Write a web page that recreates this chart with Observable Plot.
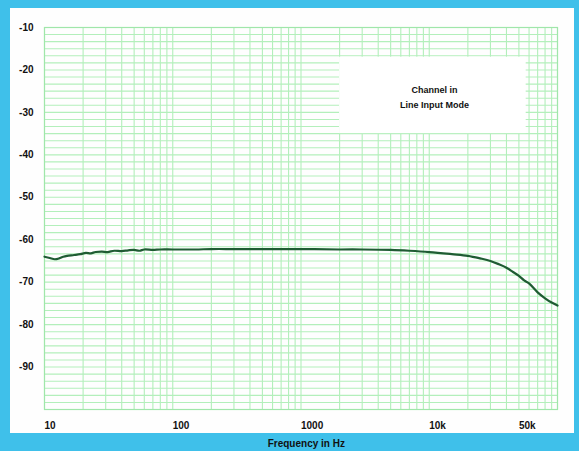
<!DOCTYPE html>
<html>
<head>
<meta charset="utf-8">
<script src="https://cdn.jsdelivr.net/npm/d3@7"></script>
<script src="https://cdn.jsdelivr.net/npm/@observablehq/plot@0.6"></script>
<style>
  html, body { margin: 0; padding: 0; }
  body { width: 579px; height: 451px; background: #3fc0ea; position: relative; overflow: hidden; font-family: "Liberation Sans", Arial, sans-serif; }
  #panel { position: absolute; left: 10px; top: 8px; width: 564px; height: 425px; background: #fefefe; }
  #chart { position: absolute; left: 0; top: 0; }
</style>
</head>
<body>
<div id="panel"></div>
<div id="chart"></div>
<script>
// Frequency response data (Hz, dB)
const freqHz = [10, 11, 12, 13, 14, 15, 17, 19, 21, 23, 25, 28, 31, 35, 40, 45, 50, 55, 60, 70, 80, 100, 150, 200, 300, 500, 1000, 2000, 3000, 5000, 7000, 10000, 15000, 20000, 25000, 30000, 35000, 40000, 45000, 50000, 55000, 60000, 70000, 80000, 90000, 100000];
const levelDb = [-64.0, -64.3, -64.6, -64.4, -64.0, -63.8, -63.6, -63.4, -63.1, -63.2, -62.9, -62.8, -62.9, -62.6, -62.7, -62.5, -62.4, -62.6, -62.3, -62.4, -62.3, -62.3, -62.3, -62.2, -62.2, -62.2, -62.2, -62.3, -62.3, -62.4, -62.6, -62.9, -63.4, -63.8, -64.4, -65.0, -65.8, -66.6, -67.6, -68.5, -69.6, -70.3, -72.4, -73.8, -74.8, -75.5];

const xTickValues = [10, 100, 1000, 10000, 50000];
const xTickLabels = ["10", "100", "1000", "10k", "50k"];
const yTickValues = [-10, -20, -30, -40, -50, -60, -70, -80, -90];
const xDomain = [10, 100000];
const yDomain = [-100, -10];

const noteLines = ["Channel in", "Line Input Mode"];
const noteBox = {x1: 2000, x2: 57000, y1: -17, y2: -35};
const noteAt = {x: 11000, y: -26};
const axisTitle = {text: "Frequency in Hz", x: 1100};

const data = freqHz.map((f, i) => ({f, db: levelDb[i]}));
const xTicks = xTickValues.map((v, i) => ({v, label: xTickLabels[i]}));

// grid positions (log paper: 1..9 per decade; 6 horizontal divisions per 10 dB)
const vGrid = [];
for (let e = 1; e <= 4; e++) for (let m = 1; m <= 9; m++) vGrid.push(m * 10 ** e);
vGrid.push(100000);
const hGrid = d3.range(0, 55).map(k => -10 - k * 10 / 6);

const gridColor = "#b3efbb";

const chart = Plot.plot({
  width: 579,
  height: 451,
  marginLeft: 44,
  marginRight: 22,
  marginTop: 27,
  marginBottom: 42,
  style: {background: "transparent", fontFamily: "'Liberation Sans', Arial, sans-serif", fontSize: "10px", fontWeight: "bold", color: "#111"},
  x: {type: "log", domain: xDomain, axis: null},
  y: {domain: yDomain},
  marks: [
    Plot.ruleX(vGrid, {stroke: gridColor, strokeWidth: 1.1}),
    Plot.ruleY(hGrid, {stroke: gridColor, strokeWidth: 1.1}),
    Plot.frame({stroke: "#a0e6aa", strokeWidth: 1.2}),
    Plot.rect([noteBox], {x1: "x1", x2: "x2", y1: "y1", y2: "y2", fill: "#ffffff"}),
    Plot.text([noteLines.join("\n")], {x: noteAt.x, y: noteAt.y, text: d => d, fill: "#111", fontSize: 9, fontWeight: "bold", lineHeight: 1.7, letterSpacing: "0.7px"}),
    Plot.line(data, {x: "f", y: "db", stroke: "#1f5c33", strokeWidth: 2.2, curve: "catmull-rom"}),
    Plot.axisY({ticks: yTickValues, tickSize: 0, tickPadding: 11, label: null, tickFormat: d => String(d)}),
    Plot.text(xTicks, {x: "v", text: "label", frameAnchor: "bottom", dy: 19, textAnchor: "start", fill: "#111", fontSize: 10, fontWeight: "bold"}),
    Plot.text([axisTitle], {x: "x", text: "text", frameAnchor: "bottom", dy: 37, fill: "#111", fontSize: 10, fontWeight: "bold"})
  ]
});
document.getElementById("chart").appendChild(chart);
</script>
</body>
</html>
